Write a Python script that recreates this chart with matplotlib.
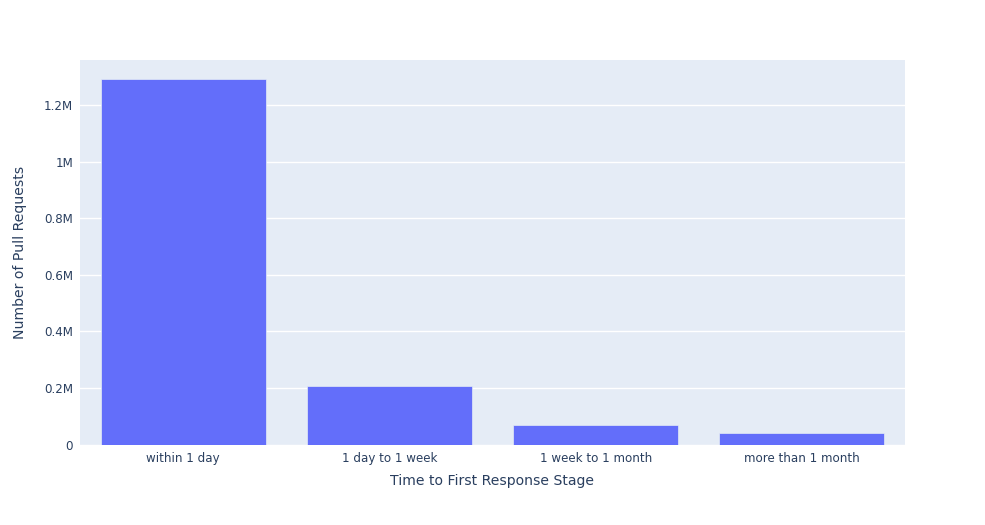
import matplotlib.pyplot as plt
from matplotlib.ticker import FuncFormatter

stages = ["within 1 day", "1 day to 1 week", "1 week to 1 month", "more than 1 month"]
pull_requests = [1292000, 207500, 69600, 41300]

plt.rcParams['font.family'] = ['DejaVu Sans']

fig = plt.figure(figsize=(9.85, 5.25), dpi=100)
ax = fig.add_axes([80 / 985, 1 - 444.7 / 525, 825 / 985, 384.7 / 525])
ax.set_facecolor('#e5ecf6')

x = range(len(stages))
ax.bar(x, pull_requests, width=0.8, color='#636efa', edgecolor='#e5ecf6', linewidth=0.5, zorder=3)

ax.set_xlim(-0.5, len(stages) - 0.5)
ax.set_ylim(0, 1359000)
ax.set_yticks([0, 200000, 400000, 600000, 800000, 1000000, 1200000])


def fmt_m(v, pos):
    if v == 0:
        return "0"
    return "{:g}M".format(round(v / 1e6, 1))


ax.yaxis.set_major_formatter(FuncFormatter(fmt_m))
ax.set_xticks(list(x))
ax.set_xticklabels(stages)
ax.grid(axis='y', color='white', linewidth=1, zorder=0)
for s in ax.spines.values():
    s.set_visible(False)
ax.tick_params(axis='both', length=0, labelsize=8.6, labelcolor='#2a3f5f')
ax.tick_params(axis='x', pad=5)
ax.tick_params(axis='y', pad=5)

ax.set_xlabel("Time to First Response Stage", fontsize=10.1, color='#2a3f5f', labelpad=7)
ax.set_ylabel("Number of Pull Requests", fontsize=10.1, color='#2a3f5f', labelpad=12)

fig.savefig('out.png', dpi=100, facecolor='white')
